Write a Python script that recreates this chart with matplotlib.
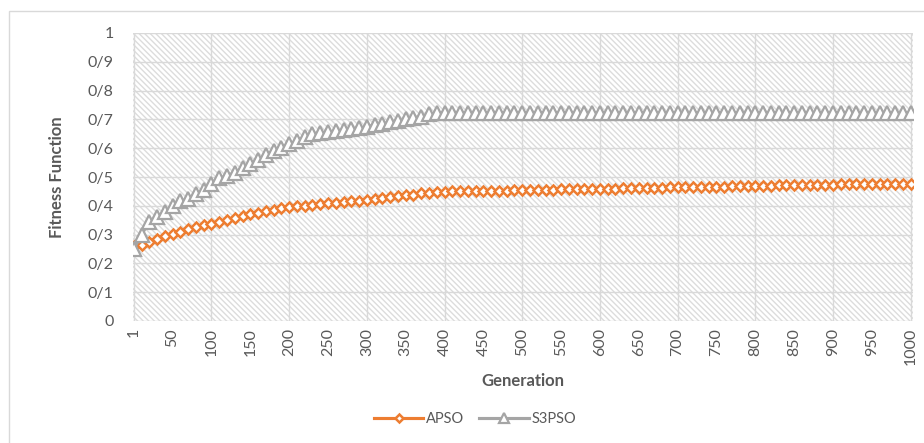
import numpy as np
import matplotlib
matplotlib.use("Agg")
import matplotlib.pyplot as plt
from matplotlib.patches import Rectangle

plt.rcParams['font.family'] = ['Lato', 'DejaVu Sans']
plt.rcParams['hatch.linewidth'] = 1.0

# generations on the category axis: 1, 10, 20, ..., 1000
generations = [1] + list(range(10, 1001, 10))

apso = [
    0.260, 0.265, 0.275, 0.285, 0.295, 0.303, 0.310, 0.318, 0.325, 0.332,
    0.338, 0.345, 0.352, 0.358, 0.364, 0.370, 0.376, 0.381, 0.386, 0.391,
    0.395, 0.398, 0.401, 0.404, 0.406, 0.408, 0.410, 0.412, 0.415, 0.418,
    0.421, 0.424, 0.427, 0.430, 0.433, 0.436, 0.439, 0.443, 0.446, 0.448,
    0.449,
    0.450, 0.450, 0.451, 0.451, 0.452, 0.452, 0.453, 0.453, 0.454, 0.454,
    0.455, 0.455, 0.456, 0.456, 0.457, 0.457, 0.458, 0.458, 0.459, 0.459,
    0.460, 0.460, 0.461, 0.461, 0.462, 0.462, 0.463, 0.463, 0.464, 0.464,
    0.465, 0.465, 0.466, 0.466, 0.467, 0.467, 0.468, 0.468, 0.469, 0.469,
    0.470, 0.470, 0.471, 0.471, 0.472, 0.472, 0.472, 0.473, 0.473, 0.473,
    0.474, 0.474, 0.474, 0.475, 0.475, 0.475, 0.476, 0.476, 0.476, 0.477,
]

s3pso = [
    0.250, 0.300, 0.345, 0.360, 0.380, 0.400, 0.415, 0.425, 0.440, 0.455,
    0.475, 0.495, 0.505, 0.515, 0.530, 0.545, 0.560, 0.575, 0.590, 0.600,
    0.615, 0.625, 0.640, 0.648, 0.652, 0.656, 0.660, 0.663, 0.667, 0.670,
    0.675, 0.680, 0.685, 0.690, 0.695, 0.700, 0.705, 0.710, 0.718, 0.722,
] + [0.722] * 61

y_ticks = [0, 0.1, 0.2, 0.3, 0.4, 0.5, 0.6, 0.7, 0.8, 0.9, 1.0]
y_labels = ['0', '0/1', '0/2', '0/3', '0/4', '0/5', '0/6', '0/7', '0/8', '0/9', '1']

txt = '#595959'
grid = '#d9d9d9'

fig = plt.figure(figsize=(9.24, 4.43), dpi=100)
ax = fig.add_axes([133 / 924, 1 - 321 / 443, 780 / 924, 288 / 443])

# chart border (left/top visible only)
fig.patches.append(Rectangle((9 / 924, -0.1), 1.2, 1.1 - 11 / 443,
                             transform=fig.transFigure, fill=False,
                             edgecolor='#d9d9d9', linewidth=1.0))

# hatched plot area
ax.add_patch(Rectangle((0, 0), 1, 1, transform=ax.transAxes, facecolor='white',
                       edgecolor='#dcdcdc', hatch='\\' * 6, linewidth=0, zorder=0))

x = np.arange(len(generations))
ax.plot(x, apso, color='#ED7D31', lw=2.25, marker='D', ms=5.4,
        mfc='white', mec='#ED7D31', mew=1.8, label='APSO', zorder=3)
ax.plot(x, s3pso, color='#A5A5A5', lw=2.25, marker='^', ms=9.5,
        mfc='white', mec='#A5A5A5', mew=1.6, label='S3PSO', zorder=4)

ax.set_xlim(-0.1, 100.3)
ax.set_ylim(0, 1)
ax.set_yticks(y_ticks)
ax.set_yticklabels(y_labels)
ax.set_xticks(x[::5])
ax.set_xticklabels([str(g) for g in generations[::5]], rotation=90)
ax.tick_params(axis='both', length=0, colors=txt, labelsize=11.5)
ax.tick_params(axis='x', pad=5)
ax.tick_params(axis='y', pad=14)

for v in y_ticks:
    ax.axhline(v, color=grid, lw=1, zorder=1)
for v in x[::10]:
    ax.axvline(v, color=grid, lw=1, zorder=1)
for s in ax.spines.values():
    s.set_visible(False)

ax.set_xlabel('Generation', fontsize=12, fontweight='bold', color=txt)
ax.set_ylabel('Fitness Function', fontsize=12, fontweight='bold', color=txt)
ax.xaxis.set_label_coords(0.5, -0.18)
ax.yaxis.set_label_coords(-0.087, 0.5)

fig.legend(loc='center', bbox_to_anchor=(475 / 924, 1 - 419 / 443), ncol=2,
           frameon=False, fontsize=10.5, handlelength=3.4, columnspacing=1.0,
           handletextpad=0.2, labelcolor=txt, markerscale=0.7)

fig.savefig('out.png', dpi=100)
